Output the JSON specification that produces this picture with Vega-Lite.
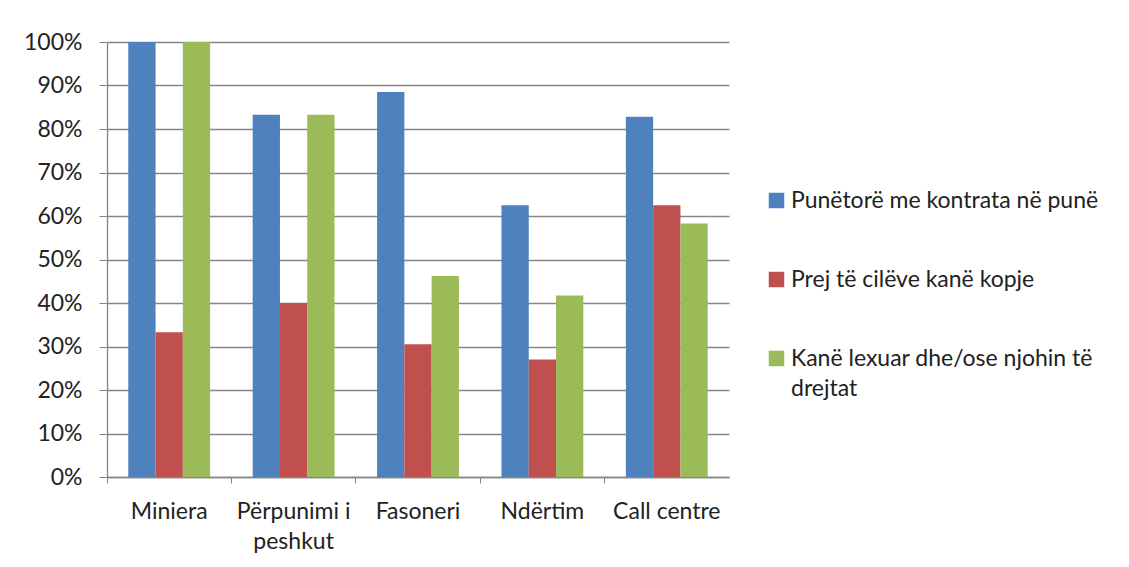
{
  "$schema": "https://vega.github.io/schema/vega-lite/v6.json",
  "width": 622,
  "height": 435,
  "autosize": {"type": "none"},
  "padding": {"left": 107, "top": 42, "right": 400, "bottom": 90},
  "background": "white",
  "data": {
    "values": [
      {"category": "Miniera", "series": "Punëtorë me kontrata në punë", "value": 1.0},
      {"category": "Miniera", "series": "Prej të cilëve kanë kopje", "value": 0.333},
      {"category": "Miniera", "series": "Kanë lexuar dhe/ose njohin të drejtat", "value": 1.0},
      {"category": "Përpunimi i peshkut", "series": "Punëtorë me kontrata në punë", "value": 0.833},
      {"category": "Përpunimi i peshkut", "series": "Prej të cilëve kanë kopje", "value": 0.4},
      {"category": "Përpunimi i peshkut", "series": "Kanë lexuar dhe/ose njohin të drejtat", "value": 0.833},
      {"category": "Fasoneri", "series": "Punëtorë me kontrata në punë", "value": 0.885},
      {"category": "Fasoneri", "series": "Prej të cilëve kanë kopje", "value": 0.305},
      {"category": "Fasoneri", "series": "Kanë lexuar dhe/ose njohin të drejtat", "value": 0.462},
      {"category": "Ndërtim", "series": "Punëtorë me kontrata në punë", "value": 0.625},
      {"category": "Ndërtim", "series": "Prej të cilëve kanë kopje", "value": 0.27},
      {"category": "Ndërtim", "series": "Kanë lexuar dhe/ose njohin të drejtat", "value": 0.417},
      {"category": "Call centre", "series": "Punëtorë me kontrata në punë", "value": 0.828},
      {"category": "Call centre", "series": "Prej të cilëve kanë kopje", "value": 0.625},
      {"category": "Call centre", "series": "Kanë lexuar dhe/ose njohin të drejtat", "value": 0.583}
    ]
  },
  "mark": {"type": "bar"},
  "encoding": {
    "x": {
      "field": "category",
      "type": "nominal",
      "sort": null,
      "scale": {"paddingInner": 0, "paddingOuter": 0},
      "axis": {
        "title": null,
        "bandPosition": 0,
        "labelAngle": 0,
        "labelFont": "Lato",
        "labelFontSize": 23,
        "labelColor": "#222222",
        "labelPadding": 17,
        "labelBaseline": "top",
        "labelLineHeight": 30,
        "labelExpr": "datum.value == 'Përpunimi i peshkut' ? ['Përpunimi i', 'peshkut'] : datum.value",
        "tickSize": 6,
        "tickColor": "#868686",
        "domainColor": "#868686",
        "domainWidth": 1.3,
        "grid": false
      }
    },
    "xOffset": {
      "field": "series",
      "type": "nominal",
      "sort": ["Punëtorë me kontrata në punë", "Prej të cilëve kanë kopje", "Kanë lexuar dhe/ose njohin të drejtat"],
      "scale": {"paddingInner": 0, "paddingOuter": 0.78}
    },
    "y": {
      "field": "value",
      "type": "quantitative",
      "scale": {"domain": [0, 1], "nice": false},
      "axis": {
        "title": null,
        "format": ".0%",
        "values": [0, 0.1, 0.2, 0.3, 0.4, 0.5, 0.6, 0.7, 0.8, 0.9, 1.0],
        "labelFont": "Lato",
        "labelFontSize": 23,
        "labelColor": "#222222",
        "labelPadding": 17,
        "tickSize": 8,
        "tickColor": "#868686",
        "domainColor": "#868686",
        "domainWidth": 1.3,
        "grid": true,
        "gridColor": "#868686",
        "gridWidth": 1.3
      }
    },
    "color": {
      "field": "series",
      "type": "nominal",
      "sort": ["Punëtorë me kontrata në punë", "Prej të cilëve kanë kopje", "Kanë lexuar dhe/ose njohin të drejtat"],
      "scale": {
        "domain": ["Punëtorë me kontrata në punë", "Prej të cilëve kanë kopje", "Kanë lexuar dhe/ose njohin të drejtat"],
        "range": ["#4F81BD", "#C0504D", "#9BBB59"]
      },
      "legend": {
        "title": null,
        "orient": "none",
        "legendX": 658,
        "legendY": 147,
        "padding": 0,
        "symbolType": "square",
        "symbolSize": 240,
        "symbolStrokeWidth": 0,
        "symbolOpacity": 1,
        "labelFont": "Lato",
        "labelFontSize": 23,
        "labelColor": "#222222",
        "labelLimit": 400,
        "labelOffset": 3,
        "rowPadding": 55,
        "labelExpr": "datum.label == 'Kanë lexuar dhe/ose njohin të drejtat' ? ['Kanë lexuar dhe/ose njohin të', 'drejtat'] : datum.label",
        "encode": {"labels": {"update": {"lineHeight": {"value": 30}}}}
      }
    }
  },
  "config": {
    "view": {"stroke": null}
  }
}
